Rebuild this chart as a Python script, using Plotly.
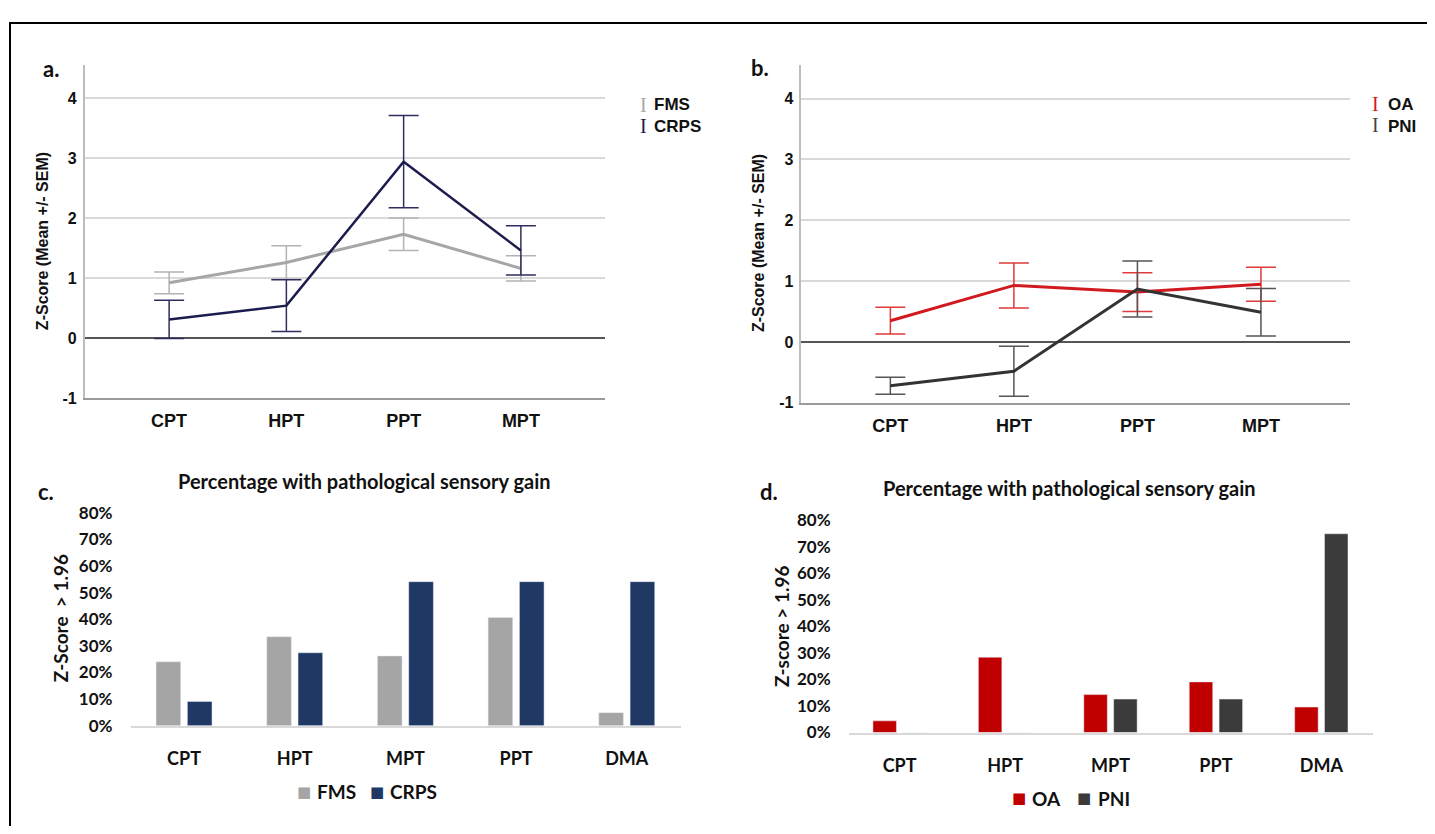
import plotly.graph_objects as go

# page body keeps its default 8px margin, so the figure is sized to fit the window exactly
OFF = 8
W, H = 1435 - 2 * OFF, 834 - 2 * OFF

# ---------------- data ----------------
line_cats = ["CPT", "HPT", "PPT", "MPT"]
fms_mean = [0.92, 1.26, 1.73, 1.16]
fms_sem = [0.18, 0.28, 0.27, 0.21]
crps_mean = [0.31, 0.54, 2.94, 1.46]
crps_sem = [0.32, 0.43, 0.77, 0.41]
oa_mean = [0.35, 0.93, 0.82, 0.95]
oa_sem = [0.22, 0.37, 0.32, 0.28]
pni_mean = [-0.72, -0.48, 0.87, 0.49]
pni_sem = [0.14, 0.41, 0.46, 0.39]

bar_cats = ["CPT", "HPT", "MPT", "PPT", "DMA"]
fms_pct = [0.24, 0.334, 0.262, 0.406, 0.049]
crps_pct = [0.091, 0.274, 0.541, 0.541, 0.541]
oa_pct = [0.044, 0.284, 0.143, 0.191, 0.096]
pni_pct = [0.0, 0.0, 0.126, 0.126, 0.75]

line_ticks = [-1, 0, 1, 2, 3, 4]
line_ticktext = ["-1", "0", "1", "2", "3", "4"]
pct_ticks = [0, 0.1, 0.2, 0.3, 0.4, 0.5, 0.6, 0.7, 0.8]

# ---------------- helpers (screen pixel -> paper) ----------------
def px(x):
    return (x - OFF) / W

def py(y):
    return 1 - (y - OFF) / H

SPSS = "Liberation Sans, Arial, sans-serif"
CAL = "Lato, Carlito, Calibri, sans-serif"

fig = go.Figure()

# Panel a
fig.add_trace(go.Scatter(x=line_cats, y=fms_mean, mode="lines", name="FMS",
                         line=dict(color="#a6a6a6", width=3),
                         error_y=dict(type="data", array=fms_sem, color="#b3b3b3", thickness=1.5, width=15),
                         xaxis="x", yaxis="y", showlegend=False))
fig.add_trace(go.Scatter(x=line_cats, y=crps_mean, mode="lines", name="CRPS",
                         line=dict(color="#1c1c4e", width=2.5),
                         error_y=dict(type="data", array=crps_sem, color="#2e2e5e", thickness=1.5, width=15),
                         xaxis="x", yaxis="y", showlegend=False))
# Panel b
fig.add_trace(go.Scatter(x=line_cats, y=oa_mean, mode="lines", name="OA",
                         line=dict(color="#d11a1f", width=3),
                         error_y=dict(type="data", array=oa_sem, color="#e03a3a", thickness=1.5, width=15),
                         xaxis="x2", yaxis="y2", showlegend=False))
fig.add_trace(go.Scatter(x=line_cats, y=pni_mean, mode="lines", name="PNI",
                         line=dict(color="#333333", width=3),
                         error_y=dict(type="data", array=pni_sem, color="#555555", thickness=1.5, width=15),
                         xaxis="x2", yaxis="y2", showlegend=False))
# Panel c
fig.add_trace(go.Bar(x=bar_cats, y=fms_pct, name="FMS", marker_color="#a5a5a5",
                     xaxis="x3", yaxis="y3", showlegend=False))
fig.add_trace(go.Bar(x=bar_cats, y=crps_pct, name="CRPS", marker_color="#203864",
                     xaxis="x3", yaxis="y3", showlegend=False))
# Panel d
fig.add_trace(go.Bar(x=bar_cats, y=oa_pct, name="OA", marker_color="#c00000",
                     xaxis="x4", yaxis="y4", showlegend=False))
fig.add_trace(go.Bar(x=bar_cats, y=pni_pct, name="PNI", marker_color="#3b3b3b",
                     xaxis="x4", yaxis="y4", showlegend=False))

line_x = dict(type="category", range=[-0.72, 3.72], showline=True, linecolor="#9a9a9a",
              linewidth=1.5, showgrid=False, ticks="outside", ticklen=6,
              tickcolor="rgba(0,0,0,0)",
              tickfont=dict(family=SPSS, size=18, color="#111111", weight="bold"))
line_y = dict(range=[-1, 4.555], tickvals=line_ticks, ticktext=line_ticktext,
              showline=True, linecolor="#bdbdbd",
              linewidth=1.5, showgrid=True, gridcolor="#d9d9d9", gridwidth=2,
              zeroline=True, zerolinecolor="#555555", zerolinewidth=1.5,
              ticks="outside", ticklen=3, tickcolor="rgba(0,0,0,0)",
              tickfont=dict(family=SPSS, size=16, color="#111111", weight="bold"))
bar_x = dict(type="category", range=[-0.48, 4.49], showline=True, linecolor="#d9d9d9",
             linewidth=1.5, showgrid=False, ticks="outside", ticklen=16,
             tickcolor="rgba(0,0,0,0)",
             tickfont=dict(family=CAL, size=18, color="#111111", weight="bold"))
bar_y = dict(range=[0, 0.8], tickvals=pct_ticks, tickformat=".0%", showline=False,
             showgrid=False, zeroline=False, ticks="outside", ticklen=14,
             tickcolor="rgba(0,0,0,0)",
             tickfont=dict(family=CAL, size=17, color="#111111", weight="bold"))

fig.update_layout(
    width=W, height=H, margin=dict(l=0, r=0, t=0, b=0),
    paper_bgcolor="white", plot_bgcolor="white",
    barmode="group", bargap=0.434, bargroupgap=0.213,
    xaxis=dict(line_x, domain=[px(84.7), px(605.3)], anchor="y"),
    yaxis=dict(line_y, domain=[py(397), py(55)], anchor="x"),
    xaxis2=dict(line_x, domain=[px(801.4), px(1349.9)], anchor="y2"),
    yaxis2=dict(line_y, domain=[py(402), py(55)], anchor="x2"),
    xaxis3=dict(bar_x, domain=[px(130.9), px(681)], anchor="y3"),
    yaxis3=dict(bar_y, domain=[py(733.3), py(514.7)], anchor="x3"),
    xaxis4=dict(bar_x, domain=[px(849), px(1373)], anchor="y4"),
    yaxis4=dict(bar_y, domain=[py(740.3), py(522.7)], anchor="x4"),
    showlegend=False,
)

ann = []
def text(x, y, s, size, family, color="#111111", bold=True, angle=0, xanchor="center"):
    t = f"<b>{s}</b>" if bold else s
    ann.append(dict(x=px(x), y=py(y), xref="paper", yref="paper", text=t, showarrow=False,
                    font=dict(family=family, size=size, color=color), textangle=angle,
                    xanchor=xanchor, yanchor="middle"))

# panel labels
text(51, 59, "a.", 22, CAL)
text(760, 58, "b.", 22, CAL)
text(46, 493, "c.", 22, CAL)
text(769, 493, "d.", 22, CAL)
# y titles
text(42, 236, "Z-Score (Mean +/- SEM)", 16, SPSS, angle=-90)
text(758, 238, "Z-Score (Mean +/- SEM)", 16, SPSS, angle=-90)
text(60, 623, "Z-Score  &gt; 1.96", 19, CAL, angle=-90)
text(781, 631, "Z-score &gt; 1.96", 19, CAL, angle=-90)
# bar titles
text(364, 482, "Percentage with pathological sensory gain", 20, CAL)
text(1069, 489, "Percentage with pathological sensory gain", 20, CAL)
# legends for line panels (error-bar glyph + label)
SERIF = "Liberation Serif, serif"
text(643, 96, "I", 20, SERIF, color="#a6a6a6", bold=False)
text(643, 118, "I", 20, SERIF, color="#1c1c4e", bold=False)
text(652, 96, "FMS", 17, SPSS, xanchor="left")
text(652, 118, "CRPS", 17, SPSS, xanchor="left")
text(1375, 95, "I", 20, SERIF, color="#d11a1f", bold=False)
text(1375, 117, "I", 20, SERIF, color="#444444", bold=False)
text(1386, 96, "OA", 17, SPSS, xanchor="left")
text(1386, 118, "PNI", 17, SPSS, xanchor="left")
# legends for bar panels
SQ = "DejaVu Sans, sans-serif"
text(303.5, 801, "■", 15, SQ, color="#a5a5a5", bold=False)
text(315, 801, "FMS", 19, CAL, xanchor="left")
text(376.5, 801, "■", 15, SQ, color="#203864", bold=False)
text(388, 801, "CRPS", 19, CAL, xanchor="left")
text(1019, 808, "■", 15, SQ, color="#c00000", bold=False)
text(1030, 808, "OA", 19, CAL, xanchor="left")
text(1084, 808, "■", 15, SQ, color="#3b3b3b", bold=False)
text(1096, 808, "PNI", 19, CAL, xanchor="left")

fig.update_layout(annotations=ann)

# outer frame
fig.add_shape(type="rect", xref="paper", yref="paper", x0=px(10), y0=-0.05, x1=1.05, y1=py(12),
              line=dict(color="black", width=2), fillcolor="rgba(0,0,0,0)")

fig.write_html("out.html", config={"displayModeBar": False})
